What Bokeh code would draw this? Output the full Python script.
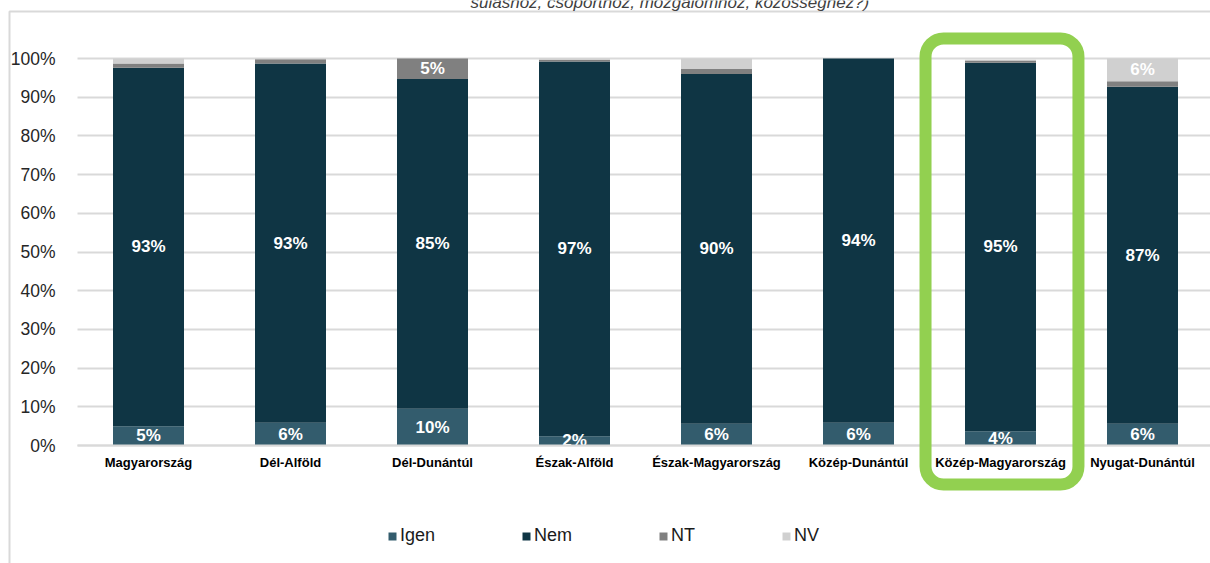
import numpy as np
from bokeh.plotting import figure
from bokeh.models import (Range1d, FixedTicker, PrintfTickFormatter, Legend, LegendItem,
                          BoxAnnotation, ColumnDataSource)
from bokeh.core.properties import value
from bokeh.embed import file_html
from bokeh.resources import INLINE

categories = ["Magyarország", "Dél-Alföld", "Dél-Dunántúl", "Észak-Alföld",
              "Észak-Magyarország", "Közép-Dunántúl", "Közép-Magyarország", "Nyugat-Dunántúl"]
series_names = ["Igen", "Nem", "NT", "NV"]
igen = [5.0, 5.9, 9.5, 2.4, 5.6, 5.9, 3.7, 5.6]
nem = [92.6, 92.8, 85.2, 96.8, 90.4, 94.1, 95.2, 87.1]
nt = [1.1, 1.1, 5.3, 0.5, 1.3, 0.0, 0.6, 1.4]
nv = [1.3, 0.2, 0.0, 0.3, 2.7, 0.0, 0.2, 5.9]
colors = ["#335C6D", "#0F3544", "#808080", "#D0D0D0"]
y_ticks = [0, 10, 20, 30, 40, 50, 60, 70, 80, 90, 100]
highlight = "Közép-Magyarország"
title_tail = "suláshoz, csoporthoz, mozgalomhoz, közösséghez?)"

FONT = "Liberation Sans"
W, H = 1210, 563


# pixel -> data helpers (used only for layout / annotations)
def dx(px):
    return (px - 77) / 142 - 0.5


def dy(py):
    return (445 - py) / 3.87


x = list(range(len(categories)))
src = ColumnDataSource(dict(x=x, Igen=igen, Nem=nem, NT=nt, NV=nv))

p = figure(width=W, height=H, output_backend="svg", toolbar_location=None,
           x_range=Range1d(dx(0), dx(W)), y_range=Range1d(dy(H), dy(0)),
           min_border_left=0, min_border_right=0, min_border_top=0, min_border_bottom=0)
p.outline_line_color = None
p.background_fill_color = "white"
p.border_fill_color = "white"

# chart-area border
p.add_layout(BoxAnnotation(left=dx(9), right=dx(W + 50), top=dy(11), bottom=dy(H + 50),
                           fill_alpha=0, line_color="#D9D9D9", line_alpha=1, line_width=2,
                           level="underlay"))

# gridlines
p.xgrid.grid_line_color = None
p.ygrid.ticker = FixedTicker(ticks=y_ticks)
p.ygrid.grid_line_color = "#D9D9D9"
p.ygrid.grid_line_width = 2
p.ygrid.cross_bounds = (-0.5, dx(W + 10))

renderers = p.vbar_stack(series_names, x="x", width=0.5, color=colors, line_color=None, source=src)

# bar labels
lx, ly, lt = [], [], []
base = np.zeros(len(categories))
for si, arr in enumerate([igen, nem, nt, nv]):
    arr = np.array(arr)
    for i, v in enumerate(arr):
        if si < 2 or v >= 3:
            lx.append(i)
            ly.append(base[i] + v / 2)
            lt.append(f"{v:.0f}%")
    base = base + arr
p.text(x=lx, y=ly, text=lt, text_color="white", text_font=value(FONT), text_font_style="bold",
       text_font_size="17px", text_align="center", text_baseline="middle")

# axes
p.yaxis.fixed_location = -0.5
p.yaxis.ticker = FixedTicker(ticks=y_ticks)
p.yaxis.formatter = PrintfTickFormatter(format="%d%%")
p.yaxis.axis_line_color = None
p.yaxis.major_tick_line_color = None
p.yaxis.minor_tick_line_color = None
p.yaxis.major_label_standoff = 16
p.yaxis.major_label_text_font = FONT
p.yaxis.major_label_text_font_size = "17.5px"
p.yaxis.major_label_text_color = "#262626"

p.xaxis.fixed_location = 0
p.xaxis.bounds = (-0.5, dx(W + 10))
p.xaxis.ticker = FixedTicker(ticks=x)
p.xaxis.major_label_overrides = {i: c for i, c in enumerate(categories)}
p.xaxis.axis_line_color = "#D9D9D9"
p.xaxis.axis_line_width = 2
p.xaxis.major_tick_line_color = None
p.xaxis.minor_tick_line_color = None
p.xaxis.major_label_standoff = 3
p.xaxis.major_label_text_font = FONT
p.xaxis.major_label_text_font_style = "bold"
p.xaxis.major_label_text_font_size = "13px"
p.xaxis.major_label_text_color = "black"

# legend
items = [LegendItem(label=n, renderers=[r]) for n, r in zip(series_names, renderers)]
legend = Legend(items=items, orientation="horizontal", location=(387, 17),
                glyph_width=10, glyph_height=10, label_standoff=3, spacing=86,
                padding=0, margin=0, border_line_color=None, background_fill_alpha=0,
                label_text_font=FONT, label_text_font_size="18px", label_text_color="#1a1a1a")
p.add_layout(legend, "center")

# highlight box
hi = categories.index(highlight)
p.add_layout(BoxAnnotation(left=hi - 0.528, right=hi + 0.549, top=dy(38), bottom=dy(484),
                           fill_alpha=0, line_color="#92D050", line_alpha=1, line_width=12,
                           border_radius=18))

# cut-off title line at the very top
p.text(x=[dx(470)], y=[dy(2)], text=[title_tail], text_color="#404040", text_font=value(FONT),
       text_font_style="italic", text_font_size="17px", text_align="left", text_baseline="alphabetic")

open("out.html", "w").write(file_html(p, INLINE))
